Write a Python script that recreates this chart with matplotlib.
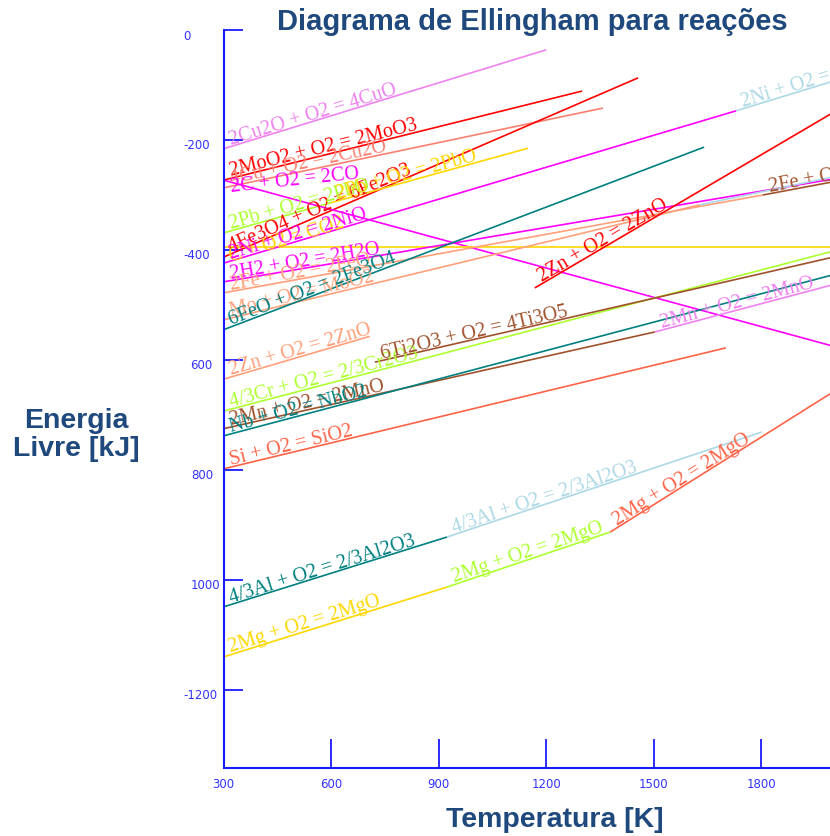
import math
import matplotlib
matplotlib.use("Agg")
import matplotlib.pyplot as plt
import matplotlib.transforms as mtransforms

W, H = 830, 836

# ---- data: one entry per drawn segment of an Ellingham line ----
reaction = [
    "2Cu2O + O2 = 4CuO", "2MoO2 + O2 = 2MoO3", "4Cu + O2 = 2Cu2O",
    "4Fe3O4 + O2 = 6Fe2O3", "2Pb + O2 = 2PbO", "2Pb + O2 = 2PbO",
    "2C + O2 = 2CO", "C + O2 = CO2", "2Ni + O2 = 2NiO", "2Ni + O2 = 2NiO",
    "2H2 + O2 = 2H2O", "2Fe + O2 = 2FeO", "2Fe + O2 = 2FeO",
    "Mo + O2 = MoO2", "Mo + O2 = MoO2", "6FeO + O2 = 2Fe3O4",
    "2Zn + O2 = 2ZnO", "2Zn + O2 = 2ZnO", "4/3Cr + O2 = 2/3Cr2O3",
    "6Ti2O3 + O2 = 4Ti3O5", "2Mn + O2 = 2MnO", "2Mn + O2 = 2MnO",
    "Nb + O2 = NbO2", "Si + O2 = SiO2", "4/3Al + O2 = 2/3Al2O3",
    "4/3Al + O2 = 2/3Al2O3", "2Mg + O2 = 2MgO", "2Mg + O2 = 2MgO",
    "2Mg + O2 = 2MgO",
]
seg_color = [
    "#EE82EE", "#FF0000", "#FA8072",
    "#FF0000", "#ADFF2F", "#FFD700",
    "#FF00FF", "#FFD700", "#FF00FF", "#ADD8E6",
    "#FF00FF", "#FFA07A", "#A0522D",
    "#FFA07A", "#ADD8E6", "#008080",
    "#FFA07A", "#FF0000", "#ADFF2F",
    "#A0522D", "#A0522D", "#EE82EE",
    "#008080", "#FF6347", "#008080",
    "#ADD8E6", "#FFD700", "#ADFF2F",
    "#FF6347",
]
T_start = [300, 300, 300, 300, 300, 600, 300, 300, 300, 1729, 300, 300, 1804,
           300, 1628, 300, 300, 1168, 300, 722, 300, 1503, 300, 300, 300, 923,
           300, 923, 1378]
T_end = [1200, 1300, 1358, 1456, 600, 1149, 2000, 2000, 1729, 2000, 2000, 1804,
         2000, 1628, 2000, 1640, 708, 2000, 2000, 2000, 1503, 2000, 2000, 1701,
         923, 1801, 923, 1378, 2000]
G_start = [-216, -273, -287, -413, -369, -314, -273, -395, -424, -147, -458,
           -478, -300, -527, -318, -545, -635, -469, -693, -604, -725, -549,
           -738, -798, -1049, -922, -1140, -1013, -913]
G_end = [-36, -111, -142, -87, -314, -215, -575, -395, -147, -93, -271, -300,
         -276, -318, -267, -213, -557, -150, -402, -413, -549, -463, -445, -578,
         -922, -731, -1013, -913, -658]
show_label = [True, True, True, True, True, True, True, True, True, True, True,
              True, True, True, False, True, True, True, True, True, True, True,
              True, True, True, True, True, True, True]

x_ticks = [300, 600, 900, 1200, 1500, 1800]
x_tick_labels = ["300", "600", "900", "1200", "1500", "1800"]
y_ticks = [0, -200, -400, -600, -800, -1000, -1200]
y_tick_labels = ["0", "-200", "-400", "600", "800", "1000", "-1200"]

# ---- layout / style ----
AXIS_BLUE = "#1a1aff"
TITLE_BLUE = "#1F497D"
label_rotation = {6: 6.0, 7: 17.0}
label_shift = {6: -10, 7: -15}
y_label_left_px = [183, 183, 183, 190, 191, 191, 183]

fig = plt.figure(figsize=(W / 100, H / 100), dpi=100)
ax = fig.add_axes([223.5 / W, 1 - 768 / H, (W - 223.5) / W, (768 - 30) / H])
ax.set_xlim(300, 1991)
ax.set_ylim(-1342, 0)
for s in ["top", "right"]:
    ax.spines[s].set_visible(False)
for s in ["left", "bottom"]:
    ax.spines[s].set_color(AXIS_BLUE)
    ax.spines[s].set_linewidth(1.5)

for i in range(len(reaction)):
    ax.plot([T_start[i], T_end[i]], [G_start[i], G_end[i]],
            color=seg_color[i], lw=1.2, solid_capstyle="butt", zorder=2)

for i in range(len(reaction)):
    if not show_label[i]:
        continue
    T = T_start[i] + 20
    G = G_start[i] + (G_end[i] - G_start[i]) * (T - T_start[i]) / (T_end[i] - T_start[i])
    p0 = ax.transData.transform((T_start[i], G_start[i]))
    p1 = ax.transData.transform((T_end[i], G_end[i]))
    ang = math.degrees(math.atan2(p1[1] - p0[1], p1[0] - p0[0]))
    ang = label_rotation.get(i, ang)
    tr = mtransforms.offset_copy(ax.transData, fig=fig, x=0,
                                 y=label_shift.get(i, 2), units="dots")
    ax.text(T, G, reaction[i], color=seg_color[i], rotation=ang,
            rotation_mode="anchor", ha="left", va="baseline", fontsize=14.5,
            family="Liberation Serif", transform=tr, clip_on=False, zorder=3)

# x ticks
ax.set_xticks(x_ticks)
ax.set_xticklabels(x_tick_labels, family="DejaVu Sans", fontsize=8.5)
ax.tick_params(axis="x", direction="in", length=21, width=1.3,
               color=AXIS_BLUE, labelcolor="#3333ff", pad=7.5)
# y ticks (labels drawn manually)
ax.set_yticks(y_ticks)
ax.set_yticklabels([""] * len(y_ticks))
ax.tick_params(axis="y", direction="in", length=14, width=1.3, color=AXIS_BLUE)
ytr = mtransforms.blended_transform_factory(fig.transFigure, ax.transData)
ytr = mtransforms.offset_copy(ytr, fig=fig, x=0, y=-6, units="dots")
for v, lab, xp in zip(y_ticks, y_tick_labels, y_label_left_px):
    ax.text(xp / W, v, lab, transform=ytr, ha="left", va="center",
            family="DejaVu Sans", fontsize=8.5, color="#3333ff", clip_on=False)

fig.text(532 / W, 1 - 22 / H, "Diagrama de Ellingham para reações",
         ha="center", va="center", fontsize=21, fontweight="bold",
         family="Liberation Sans", color=TITLE_BLUE)
fig.text(76 / W, 1 - 435 / H, "Energia\nLivre [kJ]", ha="center", va="center",
         fontsize=20.5, fontweight="bold", family="Liberation Sans",
         color=TITLE_BLUE, linespacing=1.15)
fig.text(555 / W, 1 - 820 / H, "Temperatura [K]", ha="center", va="center",
         fontsize=20.5, fontweight="bold", family="Liberation Sans",
         color=TITLE_BLUE)

fig.savefig("out.png", dpi=100)
